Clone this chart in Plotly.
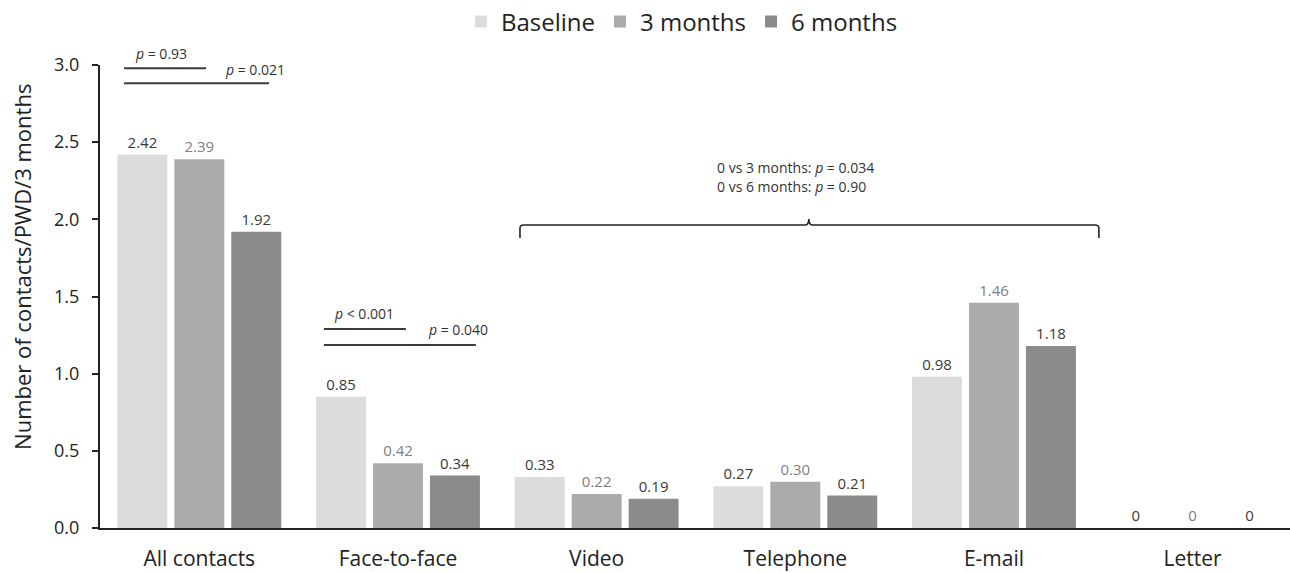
import plotly.graph_objects as go

categories = ["All contacts", "Face-to-face", "Video", "Telephone", "E-mail", "Letter"]
series_names = ["Baseline", "3 months", "6 months"]
baseline = [2.42, 0.85, 0.33, 0.27, 0.98, 0]
three_months = [2.39, 0.42, 0.22, 0.30, 1.46, 0]
six_months = [1.92, 0.34, 0.19, 0.21, 1.18, 0]
baseline_labels = ["2.42", "0.85", "0.33", "0.27", "0.98", "0"]
three_months_labels = ["2.39", "0.42", "0.22", "0.30", "1.46", "0"]
six_months_labels = ["1.92", "0.34", "0.19", "0.21", "1.18", "0"]
y_ticks = [0.0, 0.5, 1.0, 1.5, 2.0, 2.5, 3.0]

FONT = "Open Sans"
bar_colors = ["#dcdcdc", "#ababab", "#8b8b8b"]
label_colors = ["#3a3a3a", "#808080", "#3a3a3a"]

fig = go.Figure()
for name, vals, labs, col, lcol in zip(series_names,
                                       [baseline, three_months, six_months],
                                       [baseline_labels, three_months_labels, six_months_labels],
                                       bar_colors, label_colors):
    fig.add_trace(go.Bar(
        x=categories, y=vals, name=name, text=labs,
        textposition="outside", cliponaxis=False,
        textfont=dict(family=FONT, size=15, color=lcol),
        marker=dict(color=col, line=dict(width=0)),
    ))

line_col = "#3c3c3c"
def hline(x0, x1, y):
    fig.add_shape(type="line", xref="x", yref="y", x0=x0, x1=x1, y0=y, y1=y,
                  line=dict(color=line_col, width=2))

# significance lines (All contacts, Face-to-face)
hline(-0.379, 0.034, 2.979)
hline(-0.379, 0.351, 2.881)
hline(0.627, 1.040, 1.289)
hline(0.627, 1.392, 1.186)

def ptext(x, y, txt, size=14, yshift=0):
    fig.add_annotation(x=x, y=y, xref="x", yref="y", text=txt, showarrow=False,
                       xanchor="left", yanchor="middle", yshift=yshift,
                       font=dict(family=FONT, size=size, color="#333333"))

ptext(-0.334, 2.99, "<i>p</i> = 0.93", yshift=13)
ptext(0.119, 2.974, "<i>p</i> = 0.021")
ptext(0.668, 1.393, "<i>p</i> &lt; 0.001")
ptext(1.141, 1.283, "<i>p</i> = 0.040")
ptext(2.595, 2.339, "0 vs 3 months: <i>p</i> = 0.034", 14)
ptext(2.595, 2.210, "0 vs 6 months: <i>p</i> = 0.90", 14)

# curly bracket over Video..E-mail
xl, xr, xm = 1.614, 4.528, 3.068
yb, yh, yt = 1.879, 1.963, 2.002
dx = 0.02
path = (f"M {xl},{yb} L {xl},{yh-0.02} Q {xl},{yh} {xl+dx},{yh} "
        f"L {xm-dx},{yh} Q {xm},{yh} {xm},{yt} Q {xm},{yh} {xm+dx},{yh} "
        f"L {xr-dx},{yh} Q {xr},{yh} {xr},{yh-0.02} L {xr},{yb}")
fig.add_shape(type="path", xref="x", yref="y", path=path,
              line=dict(color="#222222", width=1.6))

# y-axis title
fig.add_annotation(xref="paper", yref="paper", x=-0.0655, y=0.564,
                   text="Number of contacts/PWD/3 months", showarrow=False,
                   textangle=-90, xanchor="center", yanchor="middle",
                   font=dict(family=FONT, size=22, color="#222222"))

fig.update_layout(
    width=1290, height=572,
    margin=dict(l=100, r=0, t=65, b=44, autoexpand=False),
    paper_bgcolor="white", plot_bgcolor="white",
    barmode="group", bargap=0.14, bargroupgap=0.123,
    font=dict(family=FONT, color="#222222"),
    showlegend=True,
    legend=dict(orientation="h", x=0.489, y=1.093, xanchor="center", yanchor="middle",
                font=dict(family=FONT, size=24, color="#222222"),
                itemwidth=30, traceorder="normal"),
)
fig.update_xaxes(
    range=[-0.5, 5.49], showgrid=False, zeroline=False, automargin=False,
    showline=True, linecolor="#222222", linewidth=2,
    ticks="", ticklabelstandoff=11,
    tickfont=dict(family=FONT, size=21, color="#222222"),
)
fig.update_yaxes(
    range=[0, 3.0], tickvals=y_ticks, ticktext=[f"{v:.1f}" for v in y_ticks],
    showgrid=False, zeroline=False, automargin=False,
    showline=True, linecolor="#222222", linewidth=2,
    ticks="outside", ticklen=6, tickwidth=2, tickcolor="#222222",
    ticklabelstandoff=9,
    tickfont=dict(family=FONT, size=18, color="#222222"),
)

fig.write_html("out.html", config={"displayModeBar": False},
               post_script="document.body.style.margin='0px';")
